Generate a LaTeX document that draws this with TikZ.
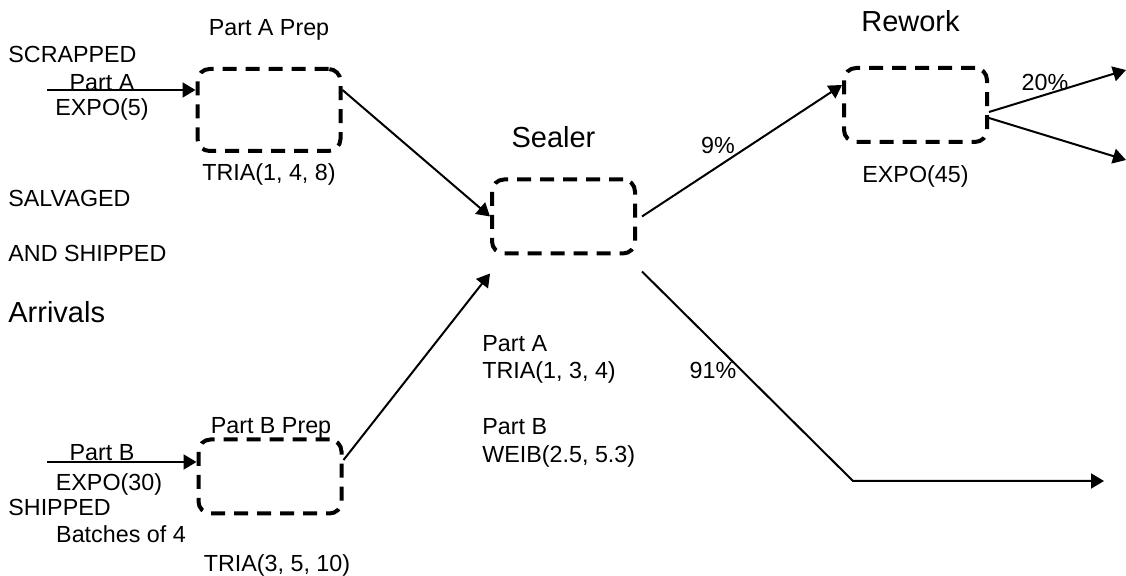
\documentclass[tikz,border=0pt]{standalone}
\usepackage{fontspec}
\setmainfont{Liberation Sans}
\usetikzlibrary{arrows.meta, positioning}
\tikzstyle{station}=[draw, line width=2pt, dash pattern=on 7pt off 4.5pt, rounded corners=6pt, minimum width=71.5pt, minimum height=37pt]
\tikzstyle{txt}=[inner sep=0pt, font=\fontsize{11.65pt}{14pt}\selectfont, text height=8.35pt, text depth=0pt]
\tikzstyle{heading}=[txt, font=\fontsize{14.5pt}{17pt}\selectfont, text height=10.4pt]
\tikzstyle{flow}=[line width=1pt, -{Triangle[length=6.5pt, width=7.5pt]}]

\begin{document}
\begin{tikzpicture}[x=0.5pt, y=-0.5pt]
\useasboundingbox (0,0) rectangle (1126,576);

% Stations
\node[station, minimum height=41pt] (prepA) at (269,110) {};
\node[station] (prepB) at (270,476.5) {};
\node[station] (sealer) at (563.5,216.5) {};
\node[station] (rework) at (915.5,105) {};

% Station names and times
\node[txt, above=15.3pt of prepA] (prepAname) {Part A Prep};
\node[txt, below=5pt of prepA] (prepAtime) {TRIA(1, 4, 8)};
\node[txt, above=1.8pt of prepB, xshift=0.5pt] (prepBname) {Part B Prep};
\node[txt, below=19.3pt of prepB, xshift=3.5pt] (prepBtime) {TRIA(3, 5, 10)};
\node[heading, above=14.8pt of sealer, xshift=-5pt] (sealername) {Sealer};
\node[heading, above=17pt of rework, xshift=-2.5pt] (reworkname) {Rework};
\node[txt, below=10.8pt of rework] (reworktime) {EXPO(45)};

% Sealer times
\node[txt, anchor=west] (sealA) at (482,343) {Part A};
\node[txt, anchor=west] (sealAtime) at (482,370) {TRIA(1, 3, 4)};
\node[txt, anchor=west] (sealB) at (482,426) {Part B};
\node[txt, anchor=west] (sealBtime) at (482,454) {WEIB(2.5, 5.3)};

% Left side notes
\node[txt, anchor=west] (scrapped) at (8,54) {SCRAPPED};
\node[txt] (partA) at (102,82) {Part A};
\node[txt] (expoA) at (102,107) {EXPO(5)};
\node[txt, anchor=west] (salvaged) at (8,198) {SALVAGED};
\node[txt, anchor=west] (andshipped) at (8,253) {AND SHIPPED};
\node[heading, anchor=west] (arrivals) at (8,312) {Arrivals};
\node[txt] (partB) at (102,452) {Part B};
\node[txt] (expoB) at (109,482) {EXPO(30)};
\node[txt, anchor=west] (shipped) at (8,507) {SHIPPED};
\node[txt] (batches) at (121,534) {Batches of 4};

% Branch shares
\node[txt] (pRework) at (718,145) {9\%};
\node[txt] (pOut) at (713,370) {91\%};
\node[txt] (pTwenty) at (1045,82) {20\%};

% Free ends
\coordinate (inA) at (47,90);
\coordinate (inB) at (47,462);
\coordinate (bend) at (853,481);
\coordinate (outDone) at (1104,481);
\coordinate (outScrap) at (1126,70);
\coordinate (outSalv) at (1126,160);

% Flow arrows
\draw[flow] (inA) -- ([yshift=10pt]prepA.west);
\draw[flow] (inB) -- ([yshift=7.25pt]prepB.west);
\draw[flow] ([yshift=10pt]prepA.east) -- (sealer.west);
\draw[flow] ([yshift=8.25pt]prepB.east) -- ([yshift=-9pt]sealer.south west);
\draw[flow] ([xshift=2.5pt]sealer.east) -- ([yshift=10pt]rework.west);
\draw[flow] ([xshift=2.5pt, yshift=-8pt]sealer.south east) -- (bend) -- (outDone);
\draw[flow] ([yshift=-3.5pt]rework.east) -- (outScrap);
\draw[flow] ([yshift=-6.5pt]rework.east) -- (outSalv);

\end{tikzpicture}
\end{document}
